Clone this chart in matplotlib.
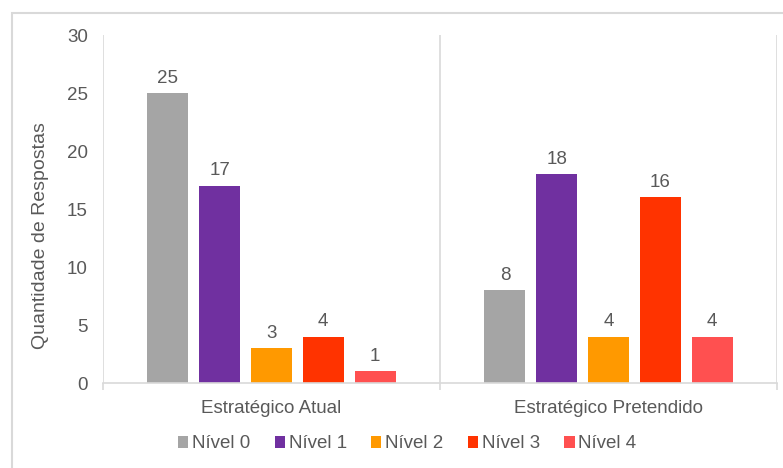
import matplotlib.pyplot as plt
from matplotlib.patches import Rectangle

categories = ["Estratégico Atual", "Estratégico Pretendido"]
levels = ["Nível 0", "Nível 1", "Nível 2", "Nível 3", "Nível 4"]
values = [
    [25, 8],
    [17, 18],
    [3, 4],
    [4, 16],
    [1, 4],
]
colors = ["#A5A5A5", "#7030A0", "#FF9900", "#FF3300", "#FF5050"]

plt.rcParams["font.family"] = ["Liberation Sans", "DejaVu Sans"]
txt = "#595959"
grid = "#D9D9D9"
fs = 13.5

fig = plt.figure(figsize=(7.83, 4.68), dpi=100)
ax = fig.add_axes([103 / 783, 1 - 383 / 468, 674 / 783, 348 / 468])

# outer frame (cut off at right and bottom like the source)
fig.patches.append(Rectangle((12 / 783, -0.05), 1.0, 1 - 13 / 468 + 0.05,
                             transform=fig.transFigure, fill=False,
                             edgecolor=grid, linewidth=1.5))

step = 0.1536
width = 0.1217
x = [0, 1]
for i, (lvl, vals) in enumerate(zip(levels, values)):
    pos = [xi + (i - 2) * step for xi in x]
    bars = ax.bar(pos, vals, width, color=colors[i], label=lvl, zorder=3)
    for b, v in zip(bars, vals):
        ax.text(b.get_x() + b.get_width() / 2, v + 0.55, str(v),
                ha="center", va="bottom", fontsize=fs, color=txt)

ax.set_xlim(-0.5, 1.5)
ax.set_ylim(0, 30)
ax.set_yticks(range(0, 31, 5))
ax.set_xticks([-0.5, 0.5, 1.5])
ax.set_xticklabels([])
ax.set_xticks(x, minor=True)
ax.set_xticklabels(categories, minor=True)
ax.tick_params(axis="x", which="minor", length=0, pad=12, labelsize=fs, labelcolor=txt)
ax.tick_params(axis="x", which="major", length=5, color=grid, width=1.2)
ax.tick_params(axis="y", length=0, pad=11, labelsize=fs, labelcolor=txt)
ax.grid(axis="x", which="major", color=grid, linewidth=1.2, zorder=0)
for s in ["top", "right", "left"]:
    ax.spines[s].set_visible(False)
ax.spines["bottom"].set_color(grid)
ax.spines["bottom"].set_linewidth(1.2)
ax.spines["bottom"].set_zorder(4)

ax.set_ylabel("Quantidade de Respostas", fontsize=14, color=txt)
ax.yaxis.set_label_coords(-0.08, 0.425)

fig.legend(loc="center", bbox_to_anchor=(0.52, 1 - 444 / 468), ncol=5,
           frameon=False, fontsize=fs, labelcolor=txt, handlelength=0.55,
           handleheight=0.55, handletextpad=0.2, columnspacing=1.3)

fig.savefig("out.png", dpi=100)
